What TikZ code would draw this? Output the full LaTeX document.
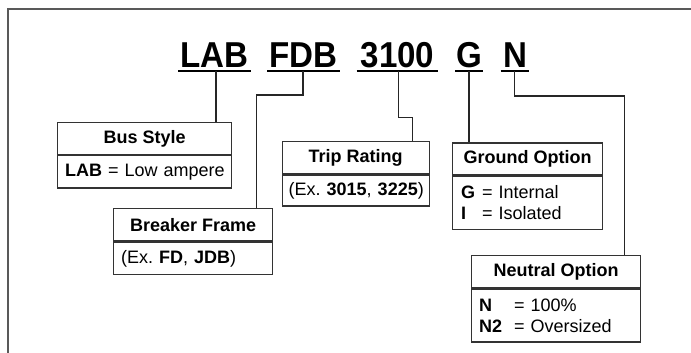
\documentclass[tikz,border=0pt]{standalone}
\usepackage{fontspec}
\setmainfont{Liberation Sans}
\newfontfamily\hdrfont[FakeStretch=0.92]{Liberation Sans}
\frenchspacing
\begin{document}
\begin{tikzpicture}[x=1pt,y=-1pt,
  frameline/.style={draw=black!65, line width=2pt},
  hdr/.style={font=\hdrfont\bfseries\fontsize{36}{36}\selectfont, inner sep=0pt, anchor=base},
  uline/.style={line width=1.6pt, draw=black},
  conn/.style={draw=black!85, line width=1.3pt},
  ttl/.style={draw=black!80, line width=1.4pt, inner sep=0pt, anchor=north west,
    font=\bfseries\fontsize{18}{21}\selectfont},
  bdy/.style={draw=black!80, line width=1.4pt, inner ysep=0pt, inner xsep=7.5pt,
    anchor=north west, align=left, font=\fontsize{18}{21}\selectfont}
]
\useasboundingbox (0,0) rectangle (691,353);
\draw[frameline] (691,9) -| (7.7,353);

% header codes
\node[hdr] (hLAB) at (214.5,67.5) {LAB};
\node[hdr] (hFDB) at (303.7,67.5) {FDB};
\node[hdr] (h3100) at (397.5,67.5) {3100};
\node[hdr] (hG) at (469,67.5) {G};
\node[hdr] (hN) at (515,67.5) {N};

\coordinate (uLABa) at (178.3,71); \coordinate (uLABb) at (250.7,71);
\coordinate (uFDBa) at (267.3,71); \coordinate (uFDBb) at (340,71);
\coordinate (u3100a) at (356.7,71); \coordinate (u3100b) at (438.3,71);
\coordinate (uGa) at (455,71); \coordinate (uGb) at (483.3,71);
\coordinate (uNa) at (500.7,71); \coordinate (uNb) at (529.3,71);
\draw[uline] (uLABa) -- (uLABb);
\draw[uline] (uFDBa) -- (uFDBb);
\draw[uline] (u3100a) -- (u3100b);
\draw[uline] (uGa) -- (uGb);
\draw[uline] (uNa) -- (uNb);

\coordinate (cLAB) at (216,71);
\coordinate (cFDB) at (303,71);
\coordinate (c3100) at (398.3,71);
\coordinate (cG) at (469,71);
\coordinate (cN) at (514.3,71);
\coordinate (kFDB) at (256.5,95);
\coordinate (k3100) at (412.3,117.3);
\coordinate (kN) at (624.3,96);

% boxes
\node[ttl, minimum width=174pt, minimum height=31.5pt] (bus) at (57,122) {Bus Style};
\node[bdy, text width=159pt, minimum height=32.5pt] (busB) at (bus.south west) {\mbox{\textbf{LAB} = Low ampere}};

\node[ttl, minimum width=159pt, minimum height=32pt] (brk) at (113,208) {Breaker Frame};
\node[bdy, text width=144pt, minimum height=32.5pt] (brkB) at (brk.south west) {\mbox{(Ex. \textbf{FD}, \textbf{JDB})}};

\node[ttl, minimum width=147pt, minimum height=32pt] (trip) at (281.5,141) {Trip Rating};
\node[bdy, inner xsep=6.5pt, text width=134pt, minimum height=31pt] (tripB) at (trip.south west) {\mbox{(Ex. \textbf{3015}, \textbf{3225})}};

\node[ttl, minimum width=150pt, minimum height=31.7pt] (gnd) at (452,142.3) {Ground Option};
\node[bdy, inner xsep=8.5pt, text width=133pt, minimum height=53.3pt] (gndB) at (gnd.south west)
  {\mbox{\makebox[21pt][l]{\textbf{G}}= Internal}\\\mbox{\makebox[21pt][l]{\textbf{I}}= Isolated}};

\node[ttl, minimum width=169.3pt, minimum height=31.7pt] (neu) at (470.7,255) {Neutral Option};
\node[bdy, inner xsep=7.6pt, text width=154.1pt, minimum height=53.3pt] (neuB) at (neu.south west)
  {\mbox{\makebox[35pt][l]{\textbf{N}}= 100\%}\\\mbox{\makebox[35pt][l]{\textbf{N2}}= Oversized}};

% connectors
\draw[conn] (cLAB) -- (bus.north -| cLAB);
\draw[conn] (cFDB) |- (kFDB) -- (brk.north -| kFDB);
\draw[conn] (c3100) |- (k3100) -- (trip.north -| k3100);
\draw[conn] (cG) -- (gnd.north -| cG);
\draw[conn] (cN) |- (kN) -- (neu.north -| kN);
\end{tikzpicture}
\end{document}
